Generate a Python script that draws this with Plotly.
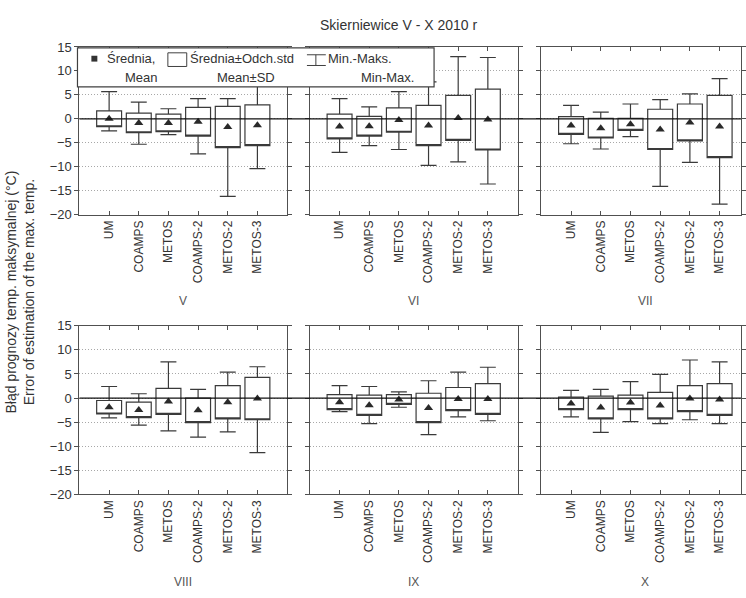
import plotly.graph_objects as go

W, H = 746, 598

models = ["UM", "COAMPS", "METOS", "COAMPS-2", "METOS-2", "METOS-3"]
months = ["V", "VI", "VII", "VIII", "IX", "X"]

# Mean forecast error of the max. temperature, per month (rows) and model (columns)
means = [
    [0.0, -0.85, -0.85, -0.6, -1.7, -1.35],
    [-1.6, -1.55, -0.25, -1.4, 0.2, -0.15],
    [-1.4, -1.95, -1.15, -2.2, -0.75, -1.6],
    [-1.9, -2.45, -0.7, -2.55, -0.85, -0.1],
    [-0.85, -1.5, -0.3, -2.05, -0.2, -0.2],
    [-1.1, -1.95, -0.9, -1.55, -0.1, -0.3],
]
# Standard deviation
sds = [
    [1.65, 2.05, 1.85, 3.0, 4.3, 4.25],
    [2.6, 2.05, 2.55, 4.2, 4.7, 6.35],
    [1.85, 2.05, 1.25, 4.2, 3.85, 6.5],
    [1.4, 1.6, 2.7, 2.55, 3.45, 4.4],
    [1.55, 2.1, 1.0, 3.05, 2.4, 3.2],
    [1.3, 2.35, 1.5, 2.75, 2.7, 3.3],
]
# Minimum error
mins = [
    [-2.5, -5.3, -3.3, -7.3, -16.2, -10.4],
    [-7.0, -5.6, -6.4, -9.7, -9.0, -13.6],
    [-5.2, -6.3, -3.7, -14.1, -9.1, -17.8],
    [-4.1, -5.6, -6.8, -8.1, -7.0, -11.3],
    [-2.8, -5.3, -1.9, -7.6, -3.9, -4.7],
    [-3.9, -7.1, -4.9, -5.3, -4.5, -5.3],
]
# Maximum error
maxs = [
    [5.7, 3.5, 2.1, 4.2, 4.2, 9.5],
    [4.2, 2.5, 5.7, 7.7, 13.0, 12.8],
    [2.8, 1.4, 3.1, 4.0, 5.2, 8.4],
    [2.4, 0.9, 7.5, 1.8, 5.4, 6.5],
    [2.6, 2.4, 1.3, 3.6, 5.4, 6.4],
    [1.6, 1.8, 3.4, 4.9, 7.9, 7.5],
]

y_ticks = [-20, -15, -10, -5, 0, 5, 10, 15]

FONT = "Liberation Sans, Arial, sans-serif"
DARK = "#3a3a3a"
FRAME = "#505050"


def px(x):
    return x / W


def py(y):
    return 1 - y / H


# panel frames in pixels: (left, right, x range max)
col_px = [(80, 289, 6.0), (312, 521, 6.0), (545, 746, 5.72)]
row_px = [(41, 213), (327, 500)]

fig = go.Figure()
layout = {}
pos = list(range(len(models)))

for i, month in enumerate(months):
    r, c = divmod(i, 3)
    n = "" if i == 0 else str(i + 1)
    xa, ya = "x" + n, "y" + n
    x0, x1, xmax = col_px[c]
    y0, y1 = row_px[r]

    lo = [m - s for m, s in zip(means[i], sds[i])]
    hi = [m + s for m, s in zip(means[i], sds[i])]

    # box = mean ± SD, whiskers = min / max
    fig.add_trace(go.Box(
        x=pos, q1=lo, median=lo, q3=hi,
        lowerfence=mins[i], upperfence=maxs[i],
        width=0.84, whiskerwidth=0.64,
        fillcolor="white", line=dict(color=DARK, width=1.2),
        boxpoints=False, showlegend=False, hoverinfo="skip",
        xaxis=xa, yaxis=ya,
    ))
    # mean marker
    fig.add_trace(go.Scatter(
        x=pos, y=means[i], mode="markers",
        marker=dict(symbol="triangle-up", size=8, color="#2a2a2a"),
        showlegend=False, hoverinfo="skip", xaxis=xa, yaxis=ya,
    ))

    layout["xaxis" + n] = dict(
        domain=[px(x0), px(x1)], range=[-1, xmax], anchor=ya,
        tickvals=pos, ticktext=models, tickangle=-90,
        ticks="inside", ticklen=4, tickcolor=FRAME, tickwidth=1,
        showline=True, linecolor=FRAME, linewidth=1.2, mirror="ticks",
        showgrid=False, zeroline=False,
        tickfont=dict(family=FONT, size=12, color="#333"),
    )
    layout["yaxis" + n] = dict(
        domain=[py(y1), py(y0)], range=[-20, 15], anchor=xa,
        tickvals=y_ticks, ticks="outside", ticklen=4, tickcolor=FRAME,
        showline=True, linecolor=FRAME, linewidth=1.2, mirror="ticks",
        showgrid=True, gridcolor="#a8a8a8", griddash="1px,2px", gridwidth=1,
        zeroline=False, showticklabels=(c == 0),
        tickfont=dict(family=FONT, size=13, color="#333"),
    )

shapes = []
# zero reference line across each row
for ya in ["y", "y4"]:
    shapes.append(dict(type="line", xref="paper", yref=ya,
                       x0=px(80), x1=1, y0=0, y1=0,
                       line=dict(color="#111", width=1.2), layer="above"))

# legend frame and symbols
shapes += [
    dict(type="rect", xref="paper", yref="paper",
         x0=px(78), x1=px(437), y0=py(82), y1=py(42),
         line=dict(color="#404040", width=1.2), fillcolor="white", layer="above"),
    dict(type="rect", xref="paper", yref="paper",
         x0=px(92), x1=px(98), y0=py(56), y1=py(50),
         line=dict(color="#333", width=0), fillcolor="#333", layer="above"),
    dict(type="rect", xref="paper", yref="paper",
         x0=px(169), x1=px(188), y0=py(61), y1=py(47),
         line=dict(color="#404040", width=1), fillcolor="white", layer="above"),
    dict(type="line", xref="paper", yref="paper",
         x0=px(318), x1=px(318), y0=py(60), y1=py(49),
         line=dict(color="#404040", width=1), layer="above"),
    dict(type="line", xref="paper", yref="paper",
         x0=px(309), x1=px(328), y0=py(49), y1=py(49),
         line=dict(color="#404040", width=1), layer="above"),
    dict(type="line", xref="paper", yref="paper",
         x0=px(309), x1=px(328), y0=py(60), y1=py(60),
         line=dict(color="#404040", width=1), layer="above"),
]


def note(text, x, y, size=13, anchor="center", angle=0, color="#333"):
    return dict(text=text, x=px(x), y=py(y), xref="paper", yref="paper",
                xanchor=anchor, yanchor="middle", showarrow=False,
                textangle=angle, font=dict(family=FONT, size=size, color=color))


annotations = [
    note("Skierniewice V - X 2010 r", 402, 18, size=14),
    note("Błąd prognozy temp. maksymalnej (°C)<br>Error of estimation of the max. temp.",
         20, 292, size=14, angle=-90),
    note("Średnia,", 106, 53, anchor="left"),
    note("Mean", 142, 72),
    note("Średnia±Odch.std", 189, 53, anchor="left"),
    note("Mean±SD", 248, 72),
    note("Min.-Maks.", 328, 53, anchor="left"),
    note("Min-Max.", 390, 72),
]
# month labels under each panel
for i, month in enumerate(months):
    r, c = divmod(i, 3)
    cx = col_px[c][0] + 104.5
    cy = [302, 590][r]
    annotations.append(note(month, cx, cy, size=12, color="#555"))

fig.update_layout(
    width=W, height=H,
    margin=dict(l=0, r=0, t=0, b=0),
    paper_bgcolor="white", plot_bgcolor="white",
    shapes=shapes, annotations=annotations,
    showlegend=False,
    font=dict(family=FONT),
    **layout,
)

fig.write_html("out.html")
